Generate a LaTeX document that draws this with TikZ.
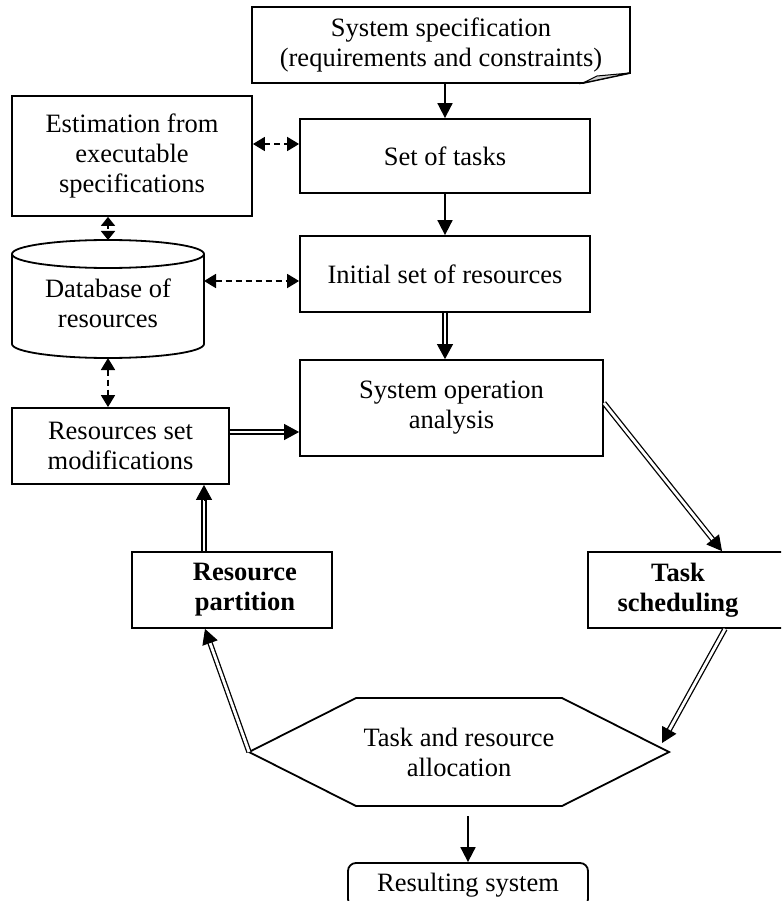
\documentclass[tikz,border=0pt]{standalone}
\usepackage{fontspec}
\setmainfont{Liberation Serif}
\usetikzlibrary{arrows.meta,calc}
\newcommand\dblarrow[2]{%
  \draw[dline] (#1) -- ($(#2)!14pt!(#1)$);
  \draw[dtip] ($(#2)!15pt!(#1)$) -- (#2);}
\begin{document}
\begin{tikzpicture}[x=1pt,y=-1pt,
  font=\fontsize{26.5}{30}\selectfont,
  box/.style={draw, line width=1.8pt, inner sep=0pt, align=center},
  plain/.style={inner sep=0pt, outer sep=0pt, align=center},
  boldtext/.style={font=\fontsize{26.5}{30}\selectfont\bfseries},
  shapeline/.style={line width=1.8pt, line join=miter},
  arr/.style={line width=1.8pt, -{Triangle[length=15pt,width=15pt]}},
  darr/.style={line width=1.8pt, dash pattern=on 6pt off 4pt,
    {Triangle[length=12pt,width=14pt]}-{Triangle[length=12pt,width=14pt]}},
  sdarr/.style={line width=1.8pt, dash pattern=on 4pt off 3pt,
    {Triangle[length=9pt,width=14pt]}-{Triangle[length=9pt,width=14pt]}},
  dline/.style={line width=1.3pt, double, double distance=2.8pt},
  dtip/.style={line width=1pt, -{Triangle[length=15pt,width=16pt]}}]
\useasboundingbox (0,0) rectangle (781,901);
\clip (0,0) rectangle (781,901);

% top document shape
\node[plain, minimum width=378, minimum height=76] (spec) at (441,45)
  {System specification\\(requirements and constraints)};
\draw[shapeline] (spec.north west) -- (spec.north east)
  -- ($(spec.south east)+(0,-10)$) -- ($(spec.south east)+(-47,0)$)
  -- (spec.south west) -- cycle;
\filldraw[fill=gray!35, line width=1pt] ($(spec.south east)+(-47,0)$)
  -- ($(spec.south east)+(0,-10)$) -- ($(spec.south east)+(-33,-7)$) -- cycle;

% main column
\node[box, minimum width=290, minimum height=74] (tasks) at (445,156) {Set of tasks};
\node[box, minimum width=290, minimum height=76] (init) at (445,274) {Initial set of resources};
\node[box, minimum width=303, minimum height=96] (sysop) at (451.5,408) {System operation\\analysis};

% left column
\node[box, minimum width=240, minimum height=120] (est) at (132,156) {Estimation from\\executable\\specifications};
\node[plain, minimum width=192, minimum height=118] (db) at (108,299) {};
\draw[shapeline] ($(db.north west)+(0,14)$) -- ($(db.south west)+(0,-14)$)
  arc[start angle=180, end angle=0, x radius=96, y radius=14]
  -- ($(db.north east)+(0,14)$);
\draw[shapeline] ($(db.north)+(0,14)$) ellipse [x radius=96, y radius=14];
\node[plain] (dbtxt) at (108,303) {Database of\\resources};
\node[box, minimum width=217, minimum height=76] (mod) at (120.5,446) {Resources set\\modifications};

% loop
\node[box, minimum width=200, minimum height=76] (part) at (232,590) {};
\node[plain, boldtext] (parttxt) at (245,590) {Resource\\partition};
\node[box, minimum width=202, minimum height=76] (task) at (689,590) {};
\node[plain, boldtext] (tasktxt) at (678,590) {Task\\scheduling};
\node[plain, minimum width=420, minimum height=108] (hex) at (459,752) {Task and resource\\allocation};
\draw[shapeline] (hex.west) -- ($(hex.north)+(-103,0)$) -- ($(hex.north)+(103,0)$)
  -- (hex.east) -- ($(hex.south)+(103,0)$) -- ($(hex.south)+(-103,0)$) -- cycle;
\node[box, rounded corners=8pt, minimum width=240, minimum height=44] (res) at (468,885) {Resulting system};

% single arrows
\draw[arr] (spec.south -| tasks.north) -- (tasks.north);
\draw[arr] (tasks.south) -- (init.north);
\coordinate (g1) at ($(hex.south)+(9,10)$);
\draw[arr] (g1) -- (g1 |- res.north);

% dashed arrows
\coordinate (esr) at ($(est.east)+(0,-12)$);
\draw[darr] (esr) -- (esr -| tasks.west);
\draw[sdarr] (est.south -| db.north) -- (db.north);
\coordinate (dbr) at ($(db.east)+(0,-18)$);
\draw[darr] (dbr) -- (dbr -| init.west);
\draw[darr] (db.south) -- (db.south |- mod.north);

% double arrows
\coordinate (a1) at (init.south);
\coordinate (a2) at (init.south |- sysop.north);
\dblarrow{a1}{a2}
\coordinate (b1) at ($(mod.east)+(0,-14)$);
\coordinate (b2) at (b1 -| sysop.west);
\dblarrow{b1}{b2}
\coordinate (c1) at ($(sysop.east)+(0,-5)$);
\coordinate (c2) at ($(task.north)+(33,0)$);
\dblarrow{c1}{c2}
\coordinate (d1) at ($(task.south)+(36,0)$);
\coordinate (d2) at ($(hex.east)+(-7,-9)$);
\dblarrow{d1}{d2}
\coordinate (e1) at (hex.west);
\coordinate (e2) at ($(part.south)+(-27,0)$);
\dblarrow{e1}{e2}
\coordinate (f1) at ($(part.north)+(-28,0)$);
\coordinate (f2) at (f1 |- mod.south);
\dblarrow{f1}{f2}
\end{tikzpicture}
\end{document}
